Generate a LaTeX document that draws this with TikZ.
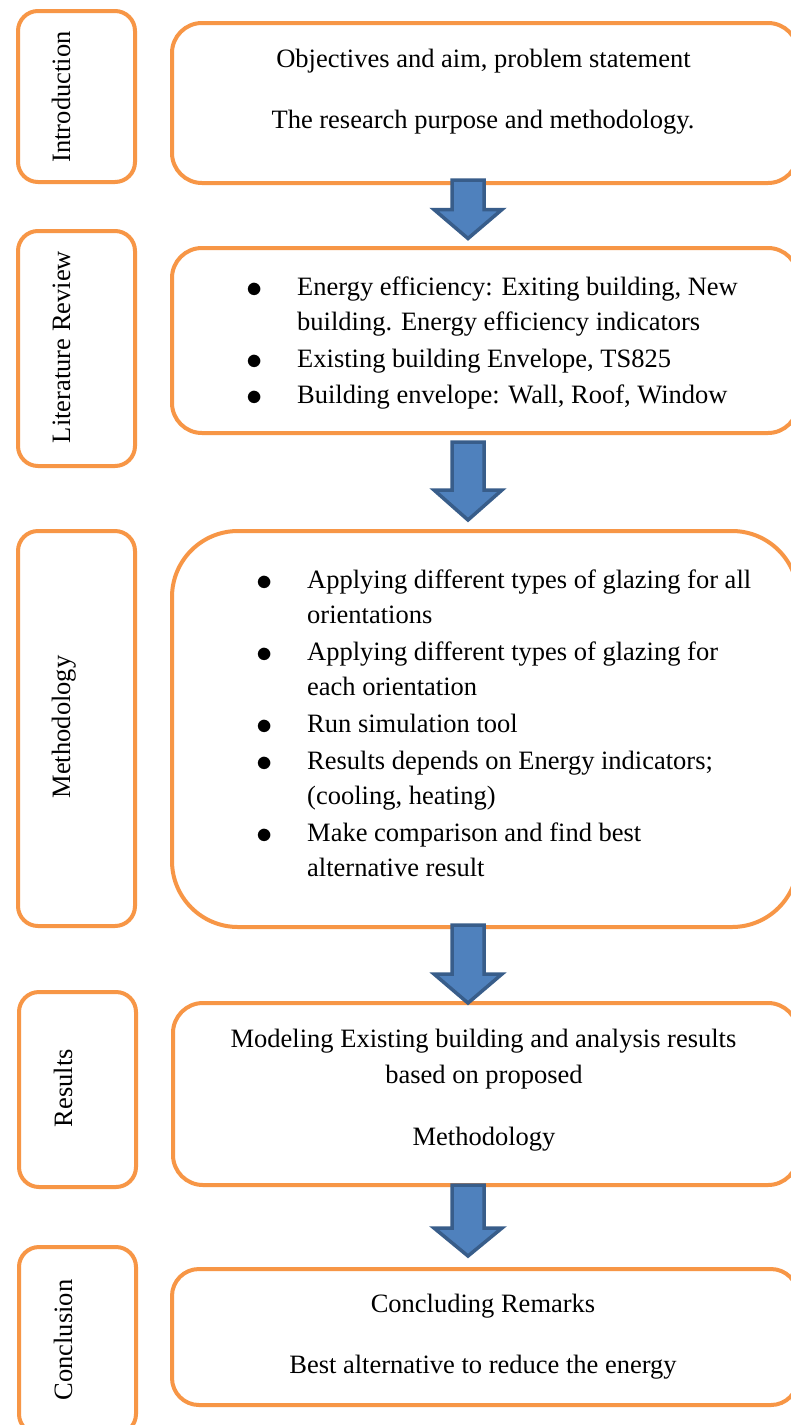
\documentclass[tikz,border=0pt]{standalone}
\usepackage{fontspec}
\setmainfont{Liberation Serif}
\usepackage{array}
\definecolor{orng}{HTML}{F79646}
\definecolor{bfill}{HTML}{4F81BD}
\definecolor{bline}{HTML}{385D8A}
\newcommand{\blockarr}[4]{%
  \draw[barrow] (#1-16,#2) -- (#1+16,#2) -- (#1+16,#3) -- (#1+34,#3) -- (#1,#4) -- (#1-34,#3) -- (#1-16,#3) -- cycle;}
\newcommand{\bul}{\raisebox{-2pt}{\scalebox{1.3}{$\bullet$}}}
\begin{document}
\begin{tikzpicture}[x=1pt,y=-1pt,
  box/.style={draw=orng, line width=4pt, inner sep=0pt, anchor=north west},
  lbox/.style={box, rounded corners=20pt},
  rbox/.style={box, rounded corners=30pt},
  barrow/.style={draw=bline, fill=bfill, line width=3.5pt, line join=miter},
  txt/.style={font=\fontsize{26.5}{35}\selectfont, inner sep=0pt},
  side/.style={txt, rotate=90, anchor=base}]
\useasboundingbox (0,0) rectangle (791,1425);
\fill[white] (0,0) rectangle (791,1425);

% left label boxes
\node[lbox, minimum width=117pt, minimum height=171pt] (L1) at (16,9) {};
\node[lbox, minimum width=117pt, minimum height=235pt] (L2) at (16,229) {};
\node[lbox, minimum width=117pt, minimum height=395pt] (L3) at (16,529) {};
\node[lbox, minimum width=117pt, minimum height=195pt] (L4) at (17,990) {};
\node[lbox, minimum width=117pt, minimum height=187pt] (L5) at (17,1245) {};

\node[side] (t1) at (70,97) {Introduction};
\node[side] (t2) at (70,347) {Literature Review};
\node[side] (t3) at (70,727) {Methodology};
\node[side] (t4) at (72,1088) {Results};
\node[side] (t5) at (72,1340) {Conclusion};

% right content boxes
\node[rbox, minimum width=626pt, minimum height=160pt] (R1) at (170,21) {};
\node[rbox, minimum width=626pt, minimum height=185pt] (R2) at (170,246) {};
\node[box, rounded corners=66pt, minimum width=626pt, minimum height=396pt] (R3) at (170,529) {};
\node[rbox, minimum width=625pt, minimum height=182pt] (R4) at (171,1001) {};
\node[box, rounded corners=27pt, minimum width=626pt, minimum height=136pt] (R5) at (170,1267) {};

% box 1
\node[txt, anchor=base] (c1a) at (483.5,67) {Objectives and aim, problem statement};
\node[txt, anchor=base] (c1b) at (483,128) {The research purpose and methodology.};

% box 2
\node[txt, anchor=base west] (c2) at (246.5,295) {%
\begin{tabular}[t]{@{}p{50.5pt}@{}l@{}}
\bul & Energy efficiency: Exiting building, New\\
 & building. Energy efficiency indicators\\[2pt]
\bul & Existing building Envelope, TS825\\[1pt]
\bul & Building envelope: Wall, Roof, Window
\end{tabular}};

% box 3
\node[txt, anchor=base west] (c3) at (256.5,588) {%
\begin{tabular}[t]{@{}p{50.5pt}@{}l@{}}
\bul & Applying different types of glazing for all\\
 & orientations\\[2pt]
\bul & Applying different types of glazing for\\
 & each orientation\\[2pt]
\bul & Run simulation tool\\[2pt]
\bul & Results depends on Energy indicators;\\
 & (cooling, heating)\\[2pt]
\bul & Make comparison and find best\\
 & alternative result
\end{tabular}};

% box 4
\node[txt, anchor=base] (c4a) at (483.5,1047) {Modeling Existing building and analysis results};
\node[txt, anchor=base] (c4b) at (484,1083) {based on proposed};
\node[txt, anchor=base] (c4c) at (484,1145) {Methodology};

% box 5
\node[txt, anchor=base] (c5a) at (483,1312) {Concluding Remarks};
\node[txt, anchor=base] (c5b) at (483,1373) {Best alternative to reduce the energy};

% block arrows
\blockarr{468}{180}{209.5}{238.5}
\blockarr{468}{442}{490}{520}
\blockarr{468}{925}{974}{1003}
\blockarr{468}{1185}{1228}{1256}
\end{tikzpicture}
\end{document}
